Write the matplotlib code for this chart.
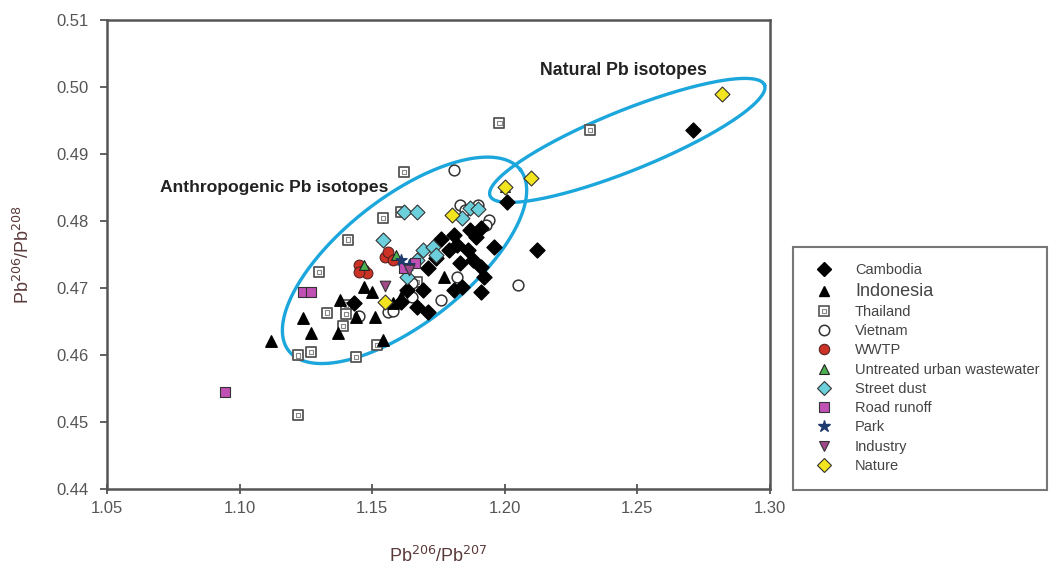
import numpy as np
import matplotlib
matplotlib.use("Agg")
from matplotlib import pyplot as plt
from matplotlib.lines import Line2D
from matplotlib.legend_handler import HandlerTuple

plt.rcParams['font.family'] = ['Liberation Sans', 'DejaVu Sans']

# Pb206/Pb207 (x) and Pb206/Pb208 (y)
cambodia_x = [1.271, 1.212, 1.201, 1.176, 1.181, 1.187, 1.191, 1.182, 1.186, 1.196,
              1.179, 1.188, 1.191, 1.183, 1.171, 1.192, 1.181, 1.191, 1.184, 1.169,
              1.161, 1.167, 1.171, 1.143, 1.163, 1.189, 1.174]
cambodia_y = [0.4936, 0.4757, 0.4828, 0.4773, 0.4779, 0.4787, 0.4790, 0.4764, 0.4757, 0.4761,
              0.4757, 0.4742, 0.4731, 0.4737, 0.4730, 0.4716, 0.4697, 0.4693, 0.4701, 0.4697,
              0.4679, 0.4672, 0.4664, 0.4678, 0.4697, 0.4776, 0.4744]

indonesia_x = [1.112, 1.124, 1.127, 1.137, 1.147, 1.150, 1.151, 1.154, 1.158, 1.177,
               1.161, 1.144, 1.138]
indonesia_y = [0.4621, 0.4655, 0.4633, 0.4633, 0.4701, 0.4694, 0.4657, 0.4622, 0.4678, 0.4716,
               0.4687, 0.4657, 0.4682]

thailand_x = [1.198, 1.232, 1.162, 1.154, 1.141, 1.161, 1.130, 1.133, 1.140, 1.140,
              1.139, 1.152, 1.122, 1.127, 1.144, 1.122, 1.167]
thailand_y = [0.4946, 0.4936, 0.4873, 0.4804, 0.4772, 0.4813, 0.4724, 0.4663, 0.4675, 0.4661,
              0.4643, 0.4615, 0.4599, 0.4604, 0.4597, 0.4510, 0.4709]

vietnam_x = [1.181, 1.183, 1.194, 1.193, 1.145, 1.156, 1.158, 1.165, 1.176, 1.182,
             1.205, 1.165, 1.185, 1.190]
vietnam_y = [0.4876, 0.4824, 0.4801, 0.4794, 0.4658, 0.4664, 0.4666, 0.4687, 0.4682, 0.4716,
             0.4704, 0.4707, 0.4816, 0.4824]

wwtp_x = [1.145, 1.147, 1.155, 1.156, 1.158, 1.148, 1.145]
wwtp_y = [0.4734, 0.4727, 0.4746, 0.4754, 0.4742, 0.4722, 0.4724]

untreated_x = [1.147, 1.159, 1.200]
untreated_y = [0.4734, 0.4749, 0.4851]

dust_x = [1.162, 1.167, 1.184, 1.187, 1.190, 1.154, 1.169, 1.173, 1.167, 1.163, 1.174]
dust_y = [0.4813, 0.4813, 0.4804, 0.4819, 0.4818, 0.4772, 0.4757, 0.4761, 0.4742, 0.4716, 0.4749]

runoff_x = [1.0945, 1.124, 1.127, 1.162, 1.166]
runoff_y = [0.4545, 0.4693, 0.4693, 0.4730, 0.4737]

park_x = [1.161, 1.164]
park_y = [0.4742, 0.4734]

industry_x = [1.155, 1.164]
industry_y = [0.4703, 0.4727]

nature_x = [1.282, 1.210, 1.200, 1.180, 1.155]
nature_y = [0.4990, 0.4864, 0.4851, 0.4809, 0.4679]

labels = ['Cambodia', 'Indonesia', 'Thailand', 'Vietnam', 'WWTP', 'Untreated urban wastewater',
          'Street dust', 'Road runoff', 'Park', 'Industry', 'Nature']

fig = plt.figure(figsize=(10.49, 5.67), dpi=100)
ax = fig.add_axes([0.102, 0.138, 0.632, 0.827])
ax.set_xlim(1.05, 1.30)
ax.set_ylim(0.44, 0.51)


def draw_ellipse(cx, cy, a, b, angle):
    # ellipse drawn in screen pixels, then mapped back to data
    c = ax.transData.transform((cx, cy))
    t = np.linspace(0, 2 * np.pi, 300)
    th = np.deg2rad(angle)
    px = c[0] + a * np.cos(t) * np.cos(th) - b * np.sin(t) * np.sin(th)
    py = c[1] + a * np.cos(t) * np.sin(th) + b * np.sin(t) * np.cos(th)
    pts = ax.transData.inverted().transform(np.column_stack([px, py]))
    ax.plot(pts[:, 0], pts[:, 1], color='#1ba6dc', lw=2.4, zorder=1)


draw_ellipse(1.1622, 0.4741, 147, 63, 38)
draw_ellipse(1.2462, 0.4920, 148, 30, 22)

ms = 60
ax.scatter(thailand_x, thailand_y, marker='s', s=ms, facecolor='white', edgecolor='#555555', lw=1.3, zorder=3)
ax.scatter(thailand_x, thailand_y, marker='s', s=9, facecolor='none', edgecolor='#888888', lw=0.8, zorder=3)
ax.scatter(vietnam_x, vietnam_y, marker='o', s=ms, facecolor='white', edgecolor='#333333', lw=1.1, zorder=3)
ax.scatter(indonesia_x, indonesia_y, marker='^', s=68, color='black', zorder=3)
ax.scatter(cambodia_x, cambodia_y, marker='D', s=58, color='black', zorder=3)
ax.scatter(dust_x, dust_y, marker='D', s=58, facecolor='#6cd0dc', edgecolor='#333333', lw=0.8, zorder=4)
ax.scatter(wwtp_x, wwtp_y, marker='o', s=ms, facecolor='#cc3326', edgecolor='#552222', lw=0.8, zorder=4)
ax.scatter(untreated_x, untreated_y, marker='^', s=50, facecolor='#4caf50', edgecolor='#222222', lw=0.8, zorder=4)
ax.scatter(runoff_x, runoff_y, marker='s', s=ms, facecolor='#c050b4', edgecolor='#333333', lw=0.8, zorder=4)
ax.scatter(park_x, park_y, marker='*', s=70, color='#1f3a6e', zorder=4)
ax.scatter(industry_x, industry_y, marker='v', s=58, facecolor='#a04a8a', edgecolor='#333333', lw=0.8, zorder=4)
ax.scatter(nature_x, nature_y, marker='D', s=58, facecolor='#f2e41e', edgecolor='#333333', lw=0.8, zorder=5)

ax.text(1.070, 0.4849, 'Anthropogenic Pb isotopes', fontsize=12.6, fontweight='bold',
        color='#222222', va='center', ha='left')
ax.text(1.2133, 0.5024, 'Natural Pb isotopes', fontsize=12.8, fontweight='bold',
        color='#222222', va='center', ha='left')

ax.set_xticks(np.arange(1.05, 1.301, 0.05))
ax.set_yticks(np.arange(0.44, 0.5101, 0.01))
ax.xaxis.set_major_formatter(plt.FormatStrFormatter('%.2f'))
ax.yaxis.set_major_formatter(plt.FormatStrFormatter('%.2f'))
for s in ax.spines.values():
    s.set_color('#555555')
    s.set_linewidth(1.8)
ax.tick_params(axis='x', direction='inout', length=7, width=1.3, color='#555555',
               labelsize=12, labelcolor='#555555', pad=5)
ax.tick_params(axis='y', direction='out', length=5, width=1.3, color='#555555',
               labelsize=12, labelcolor='#555555', pad=8)

ax.set_xlabel(r'Pb$^{206}$/Pb$^{207}$', fontsize=13, color='#5a3a3a', labelpad=22)
ax.set_ylabel(r'Pb$^{206}$/Pb$^{208}$', fontsize=13, color='#5a3a3a', labelpad=17)

# legend handles
h_thai = (Line2D([], [], ls='none', marker='s', ms=7.5, mfc='white', mec='#555555', mew=1.2),
          Line2D([], [], ls='none', marker='s', ms=2.5, mfc='none', mec='#888888', mew=0.8))
handles = [
    Line2D([], [], ls='none', marker='D', ms=7.5, color='black'),
    Line2D([], [], ls='none', marker='^', ms=7.5, color='black'),
    h_thai,
    Line2D([], [], ls='none', marker='o', ms=7.5, mfc='white', mec='#333333', mew=1.1),
    Line2D([], [], ls='none', marker='o', ms=7.5, mfc='#cc3326', mec='#552222', mew=0.8),
    Line2D([], [], ls='none', marker='^', ms=7.5, mfc='#4caf50', mec='#222222', mew=0.8),
    Line2D([], [], ls='none', marker='D', ms=7.5, mfc='#6cd0dc', mec='#333333', mew=0.8),
    Line2D([], [], ls='none', marker='s', ms=7.5, mfc='#c050b4', mec='#333333', mew=0.8),
    Line2D([], [], ls='none', marker='*', ms=9, color='#1f3a6e'),
    Line2D([], [], ls='none', marker='v', ms=7.5, mfc='#a04a8a', mec='#333333', mew=0.8),
    Line2D([], [], ls='none', marker='D', ms=7.5, mfc='#f2e41e', mec='#333333', mew=0.8),
]
leg = fig.legend(handles, labels, loc='upper left', bbox_to_anchor=(0.756, 0.565, 0.242, 0.0),
                 mode='expand', fontsize=10.5, labelspacing=0.36, handletextpad=1.1,
                 handlelength=2.0, handler_map={tuple: HandlerTuple(ndivide=1)},
                 frameon=True, fancybox=False, borderpad=1.15, borderaxespad=0)
leg.get_frame().set_edgecolor('#555555')
leg.get_frame().set_linewidth(1.5)
for t in leg.get_texts():
    t.set_color('#444444')
leg.get_texts()[1].set_fontsize(13)

fig.savefig('out.png', dpi=100)
